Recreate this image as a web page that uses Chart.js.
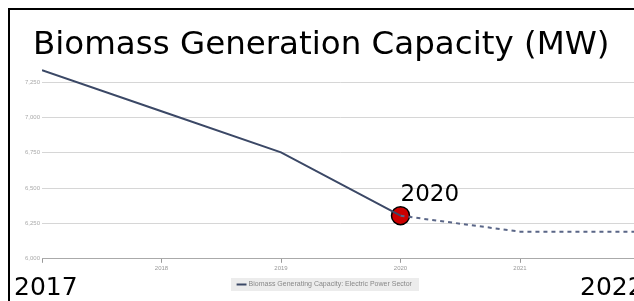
<!DOCTYPE html>
<html>
<head>
<meta charset="utf-8">
<script src="https://cdn.jsdelivr.net/npm/chart.js@4/dist/chart.umd.min.js"></script>
<style>
  html, body { margin: 0; padding: 0; background: #fff; }
  #wrap { position: relative; width: 634px; height: 301px; overflow: hidden; }
  #frame { position: absolute; left: 8px; top: 8px; width: 700px; height: 400px;
           border-top: 2px solid #000; border-left: 2px solid #000; }
  canvas { position: absolute; left: 0; top: 0; }
</style>
</head>
<body>
<div id="wrap">
  <canvas id="bioChart" width="650" height="301"></canvas>
  <div id="frame"></div>
</div>
<script>
const years = [2017, 2018, 2019, 2020];
const capacity = [7335, 7044, 6753, 6305];
const forecastYears = [2020, 2021, 2022];
const forecast = [6305, 6192, 6192];
const yTicks = [6000, 6250, 6500, 6750, 7000, 7250];
const seriesName = 'Biomass Generating Capacity: Electric Power Sector';
const titleText = 'Biomass Generation Capacity (MW)';

document.addEventListener("DOMContentLoaded", function () {
    const ctx = document.getElementById('bioChart').getContext('2d');

    // grey box behind the legend + the big overlaid labels
    const overlay = {
        id: 'overlay',
        beforeDraw(chart) {
            const box = chart.legend.legendHitBoxes[0];
            if (!box) return;
            const c = chart.ctx;
            c.save();
            c.fillStyle = '#ececec';
            c.fillRect(box.left - 7, box.top - 3, box.width + 14, box.height + 6);
            c.restore();
        },
        afterDraw(chart) {
            const c = chart.ctx;
            const xs = chart.scales.x, ys = chart.scales.y;
            c.save();
            c.fillStyle = '#000';
            c.textBaseline = 'alphabetic';
            c.textAlign = 'left';
            c.font = '32px "DejaVu Sans"';
            const tw = c.measureText(titleText).width;
            c.font = (32 * 577 / tw).toFixed(1) + 'px "DejaVu Sans"';
            c.fillText(titleText, 33, 54);
            c.font = '23px "DejaVu Sans"';
            const px = xs.getPixelForValue(2020), py = ys.getPixelForValue(capacity[3]);
            c.fillText('2020', px, py - 15);
            c.font = '25px "DejaVu Sans"';
            c.fillText('2017', 14, 295);
            c.fillText('2022', 580, 295);
            c.restore();
        }
    };

    new Chart(ctx, {
        type: 'line',
        data: {
            datasets: [{
                label: seriesName,
                data: years.map((x, i) => ({ x: x, y: capacity[i] })),
                borderColor: '#3b4866',
                borderWidth: 2,
                pointRadius: 0,
                tension: 0
            }, {
                label: 'forecast',
                data: forecastYears.map((x, i) => ({ x: x, y: forecast[i] })),
                borderColor: '#5a6687',
                borderWidth: 2,
                borderDash: [4, 4],
                pointRadius: 0,
                tension: 0
            }, {
                label: 'marker',
                data: [{ x: years[3], y: capacity[3] }],
                showLine: false,
                pointRadius: 9,
                pointBackgroundColor: '#cc0000',
                pointBorderColor: '#000',
                pointBorderWidth: 1.5
            }]
        },
        options: {
            responsive: false,
            animation: false,
            layout: { padding: { top: 61, left: 0, right: 0, bottom: 3 } },
            scales: {
                x: {
                    type: 'linear',
                    min: 2017,
                    max: 2022,
                    ticks: {
                        stepSize: 1,
                        autoSkip: false,
                        color: '#999',
                        font: { size: 6 },
                        padding: 2,
                        callback: v => (v === 2017 || v === 2022) ? '' : String(v)
                    },
                    grid: { drawOnChartArea: false, drawTicks: true, tickLength: 4, color: '#999' },
                    border: { display: true, color: '#aaa' }
                },
                y: {
                    min: 6000,
                    max: 7400,
                    afterBuildTicks: s => { s.ticks = yTicks.map(v => ({ value: v })); },
                    afterFit: s => { s.width = 42; },
                    ticks: {
                        color: '#aaa',
                        font: { size: 6 },
                        padding: 2,
                        callback: v => v.toLocaleString('en-US')
                    },
                    grid: { color: '#d6d6d6', drawTicks: false },
                    border: { display: false }
                }
            },
            plugins: {
                legend: {
                    position: 'bottom',
                    labels: {
                        filter: item => item.datasetIndex === 0,
                        usePointStyle: true,
                        pointStyle: 'line',
                        boxWidth: 9,
                        color: '#888',
                        font: { size: 7 },
                        padding: 7
                    }
                },
                tooltip: { enabled: false }
            }
        },
        plugins: [overlay]
    });
});
</script>
</body>
</html>
